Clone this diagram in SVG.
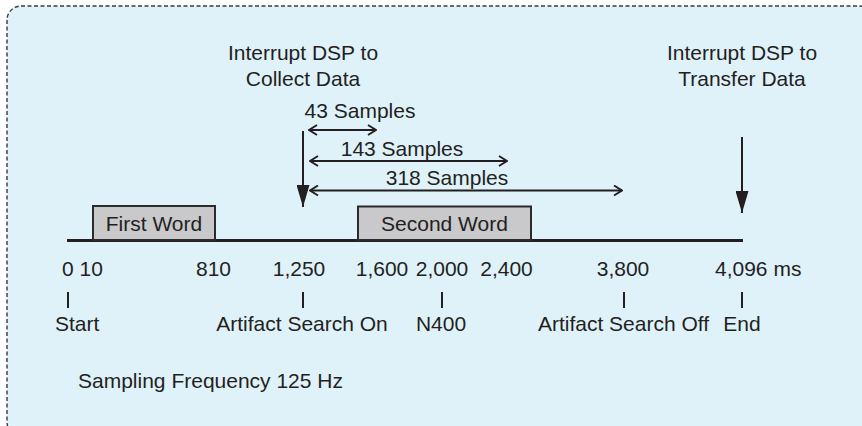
<svg xmlns="http://www.w3.org/2000/svg" width="862" height="426" viewBox="0 0 862 426">
  <style>
    text { font-family: "Liberation Sans", Arial, Helvetica, sans-serif; font-size: 21px; fill: #231f20; }
    .mid { text-anchor: middle; }
    .word { fill: #c9c9cb; stroke: #2b2b2b; stroke-width: 2; }
    .axis { stroke: #231f20; stroke-width: 3; fill: none; }
    .tick { stroke: #231f20; stroke-width: 2; fill: none; }
    .span { stroke: #231f20; stroke-width: 2; fill: none; }
    .drop { stroke: #231f20; stroke-width: 2; fill: none; }
  </style>
  <defs>
    <marker id="open" viewBox="0 0 10 12" refX="9" refY="6" markerWidth="10" markerHeight="12" markerUnits="userSpaceOnUse" orient="auto-start-reverse">
      <path d="M1,1 L9,6 L1,11" fill="none" stroke="#231f20" stroke-width="2"/>
    </marker>
    <marker id="solid" viewBox="0 0 22 13" refX="22" refY="6.5" markerWidth="22" markerHeight="13" markerUnits="userSpaceOnUse" orient="auto">
      <path d="M0,0 L22,6.5 L0,13 Z" fill="#231f20"/>
    </marker>
  </defs>

  <!-- panel -->
  <rect x="7" y="6" width="866" height="430" rx="14" ry="14" fill="#dff2fa" stroke="#3a3a3a" stroke-width="1.4" stroke-dasharray="4 2.5"/>

  <!-- time axis -->
  <g id="axis">
    <line class="axis" x1="67" y1="240.5" x2="743" y2="240.5"/>
  </g>

  <!-- word boxes -->
  <g id="first-word">
    <rect class="word" x="93" y="206" width="122" height="34"/>
    <text class="mid" x="154" y="231">First Word</text>
  </g>
  <g id="second-word">
    <rect class="word" x="358" y="206.5" width="173" height="33.5"/>
    <text class="mid" x="444.5" y="231">Second Word</text>
  </g>

  <!-- interrupt labels -->
  <g id="collect">
    <text class="mid" x="303" y="60">Interrupt DSP to</text>
    <text class="mid" x="303" y="86">Collect Data</text>
  </g>
  <g id="transfer">
    <text class="mid" x="742" y="60">Interrupt DSP to</text>
    <text class="mid" x="742" y="86">Transfer Data</text>
  </g>

  <!-- sample span labels -->
  <g id="span-43"><text class="mid" x="360" y="118">43 Samples</text></g>
  <g id="span-143"><text class="mid" x="402" y="156">143 Samples</text></g>
  <g id="span-318"><text class="mid" x="447" y="185">318 Samples</text></g>

  <!-- connectors -->
  <g id="connectors">
    <line class="drop" x1="303" y1="131" x2="303" y2="207" marker-end="url(#solid)"/>
    <line class="drop" x1="742" y1="137" x2="742" y2="213" marker-end="url(#solid)"/>
    <line class="span" x1="309" y1="130" x2="376" y2="130" stroke-width="1.6" marker-start="url(#open)" marker-end="url(#open)"/>
    <line class="span" x1="310" y1="161" x2="507" y2="161" marker-start="url(#open)" marker-end="url(#open)"/>
    <line class="span" x1="310" y1="190.5" x2="622" y2="190.5" marker-start="url(#open)" marker-end="url(#open)"/>
  </g>

  <!-- time values -->
  <g id="times">
    <text x="62" y="276">0 10</text>
    <text class="mid" x="213.5" y="276">810</text>
    <text class="mid" x="299" y="276">1,250</text>
    <text class="mid" x="382" y="276">1,600</text>
    <text class="mid" x="442" y="276">2,000</text>
    <text class="mid" x="506.5" y="276">2,400</text>
    <text class="mid" x="623" y="276">3,800</text>
    <text x="715" y="276">4,096 ms</text>
  </g>

  <!-- event markers -->
  <g id="start">
    <line class="tick" x1="68" y1="292" x2="68" y2="308"/>
    <text x="55" y="331">Start</text>
  </g>
  <g id="artifact-on">
    <line class="tick" x1="303" y1="292" x2="303" y2="308"/>
    <text class="mid" x="302" y="331">Artifact Search On</text>
  </g>
  <g id="n400">
    <line class="tick" x1="442" y1="292" x2="442" y2="308"/>
    <text class="mid" x="441" y="331">N400</text>
  </g>
  <g id="artifact-off">
    <line class="tick" x1="624" y1="292" x2="624" y2="308"/>
    <text class="mid" x="623.5" y="331">Artifact Search Off</text>
  </g>
  <g id="end">
    <line class="tick" x1="742" y1="292" x2="742" y2="308"/>
    <text class="mid" x="742" y="331">End</text>
  </g>

  <g id="sampling">
    <text x="78" y="388">Sampling Frequency 125 Hz</text>
  </g>
</svg>
